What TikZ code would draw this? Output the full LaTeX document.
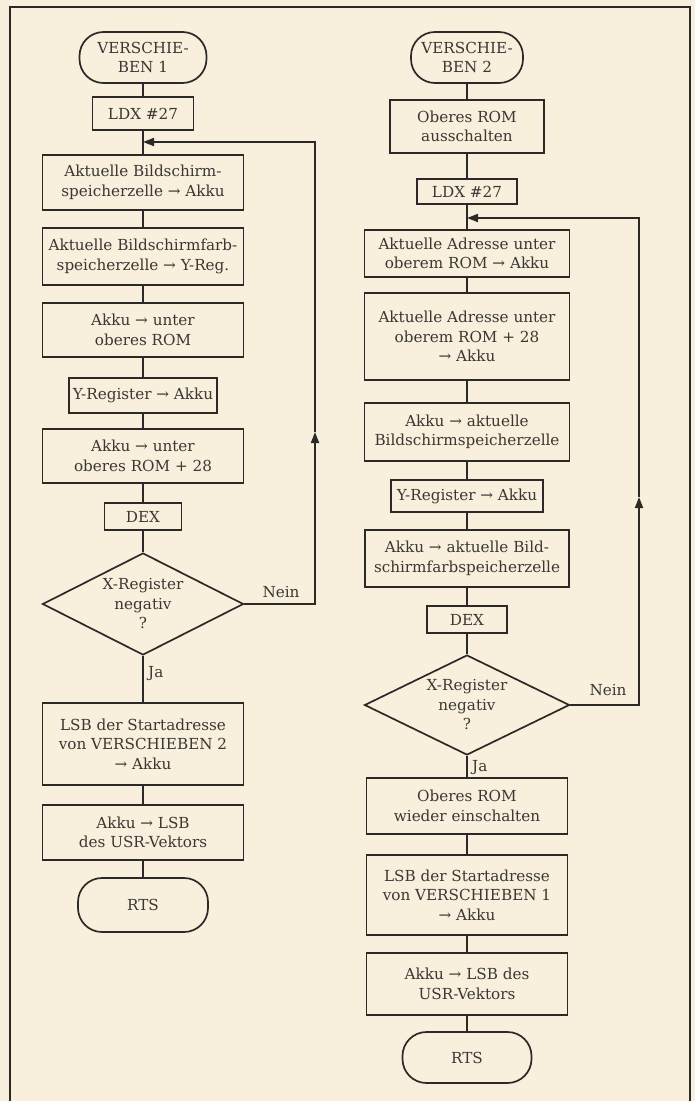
\documentclass[tikz,border=0pt]{standalone}
\usepackage{fontspec}
\setmainfont{DejaVu Serif}
\usetikzlibrary{shapes.geometric,arrows.meta}
\definecolor{paper}{HTML}{F8F0DC}
\definecolor{ink}{HTML}{2C2A28}
\definecolor{txt}{HTML}{3A3835}
\tikzset{
  box/.style={draw=ink, line width=1.7pt, align=center, inner sep=0pt, text=txt,
     font=\fontsize{15.2}{19.5}\selectfont},
  term/.style={box, rounded corners=24pt},
  dia/.style={box, diamond, aspect=2, inner sep=-14pt},
  conn/.style={draw=ink, line width=1.7pt},
  tip/.style={-{Triangle[length=11pt,width=8pt]}},
  lbl/.style={text=txt, font=\fontsize{15.2}{19.5}\selectfont, inner sep=0pt}
}
\begin{document}
\begin{tikzpicture}[x=1pt,y=-1pt]
\fill[paper] (0,0) rectangle (695,1101);
\useasboundingbox (0,0) rectangle (695,1101);
\draw[ink, line width=1.7pt] (10,1101) -- (10,7) -- (690,7) -- (690,1101);

% left column
\node[term, minimum width=127pt, minimum height=51pt] (s1) at (143,57.5) {VERSCHIE-\\BEN 1};
\node[box, minimum width=101pt, minimum height=33pt] (l1) at (143,113.5) {LDX \#27};
\coordinate (m1) at (143,142);
\node[box, minimum width=201pt, minimum height=55pt] (a1) at (143,182.5) {Aktuelle Bildschirm-\\speicherzelle → Akku};
\node[box, minimum width=201pt, minimum height=57pt] (a2) at (143,256.5) {Aktuelle Bildschirmfarb-\\speicherzelle → Y-Reg.};
\node[box, minimum width=201pt, minimum height=54pt] (a3) at (143,330) {Akku → unter\\oberes ROM};
\node[box, minimum width=148pt, minimum height=35pt] (a4) at (143,395.5) {Y-Register → Akku};
\node[box, minimum width=201pt, minimum height=54pt] (a5) at (143,456) {Akku → unter\\oberes ROM + 28};
\node[box, minimum width=77pt, minimum height=27pt] (a6) at (143,516.5) {DEX};
\node[dia, minimum width=201pt, minimum height=102pt] (d1) at (143,604) {X-Register\\negativ\\?};
\node[box, minimum width=201pt, minimum height=82pt] (a7) at (143,744) {LSB der Startadresse\\von VERSCHIEBEN 2\\→ Akku};
\node[box, minimum width=201pt, minimum height=55pt] (a8) at (143,832.5) {Akku → LSB\\des USR-Vektors};
\node[term, minimum width=130pt, minimum height=54pt] (e1) at (143,905) {RTS};
\coordinate (c1) at (315,604);
\coordinate (c2) at (315,432);
\coordinate (c3) at (315,142);

\draw[conn] (s1) -- (l1);
\draw[conn] (l1) -- (a1);
\draw[conn] (a1) -- (a2);
\draw[conn] (a2) -- (a3);
\draw[conn] (a3) -- (a4);
\draw[conn] (a4) -- (a5);
\draw[conn] (a5) -- (a6);
\draw[conn] (a6) -- (d1);
\draw[conn] (d1) -- (a7);
\draw[conn] (a7) -- (a8);
\draw[conn] (a8) -- (e1);
\draw[conn, tip] (d1.east) -- (c1) -- (c2);
\draw[conn, tip] (c2) -- (c3) -- (m1);
\node[lbl] (n1) at (281,592) {Nein};
\node[lbl, anchor=west] (j1) at (148,674) {Ja};

% right column
\node[term, minimum width=112pt, minimum height=51pt] (s2) at (467,57.5) {VERSCHIE-\\BEN 2};
\node[box, minimum width=154pt, minimum height=53pt] (b1) at (467,126.5) {Oberes ROM\\ausschalten};
\node[box, minimum width=100pt, minimum height=25pt] (b2) at (467,191.5) {LDX \#27};
\coordinate (m2) at (467,218);
\node[box, minimum width=205pt, minimum height=47pt] (b3) at (467,253.5) {Aktuelle Adresse unter\\oberem ROM → Akku};
\node[box, minimum width=205pt, minimum height=87pt] (b4) at (467,336.5) {Aktuelle Adresse unter\\oberem ROM + 28\\→ Akku};
\node[box, minimum width=205pt, minimum height=58pt] (b5) at (467,432) {Akku → aktuelle\\Bildschirmspeicherzelle};
\node[box, minimum width=152pt, minimum height=32pt] (b6) at (467,496) {Y-Register → Akku};
\node[box, minimum width=204pt, minimum height=57pt] (b7) at (467,558.5) {Akku → aktuelle Bild-\\schirmfarbspeicherzelle};
\node[box, minimum width=80pt, minimum height=27pt] (b8) at (467,619.5) {DEX};
\node[dia, minimum width=205pt, minimum height=100pt] (d2) at (467,705) {X-Register\\negativ\\?};
\node[box, minimum width=201pt, minimum height=56pt] (b9) at (467,806) {Oberes ROM\\wieder einschalten};
\node[box, minimum width=201pt, minimum height=80pt] (b10) at (467,895) {LSB der Startadresse\\von VERSCHIEBEN 1\\→ Akku};
\node[box, minimum width=201pt, minimum height=62pt] (b11) at (467,984) {Akku → LSB des\\USR-Vektors};
\node[term, minimum width=129pt, minimum height=51pt] (e2) at (467,1057.5) {RTS};
\coordinate (k1) at (639,705);
\coordinate (k2) at (639,497);
\coordinate (k3) at (639,218);

\draw[conn] (s2) -- (b1);
\draw[conn] (b1) -- (b2);
\draw[conn] (b2) -- (b3);
\draw[conn] (b3) -- (b4);
\draw[conn] (b4) -- (b5);
\draw[conn] (b5) -- (b6);
\draw[conn] (b6) -- (b7);
\draw[conn] (b7) -- (b8);
\draw[conn] (b8) -- (d2);
\draw[conn] (d2) -- (b9);
\draw[conn] (b9) -- (b10);
\draw[conn] (b10) -- (b11);
\draw[conn] (b11) -- (e2);
\draw[conn, tip] (d2.east) -- (k1) -- (k2);
\draw[conn, tip] (k2) -- (k3) -- (m2);
\node[lbl] (n2) at (608,690) {Nein};
\node[lbl, anchor=west] (j2) at (472,768) {Ja};
\end{tikzpicture}
\end{document}
